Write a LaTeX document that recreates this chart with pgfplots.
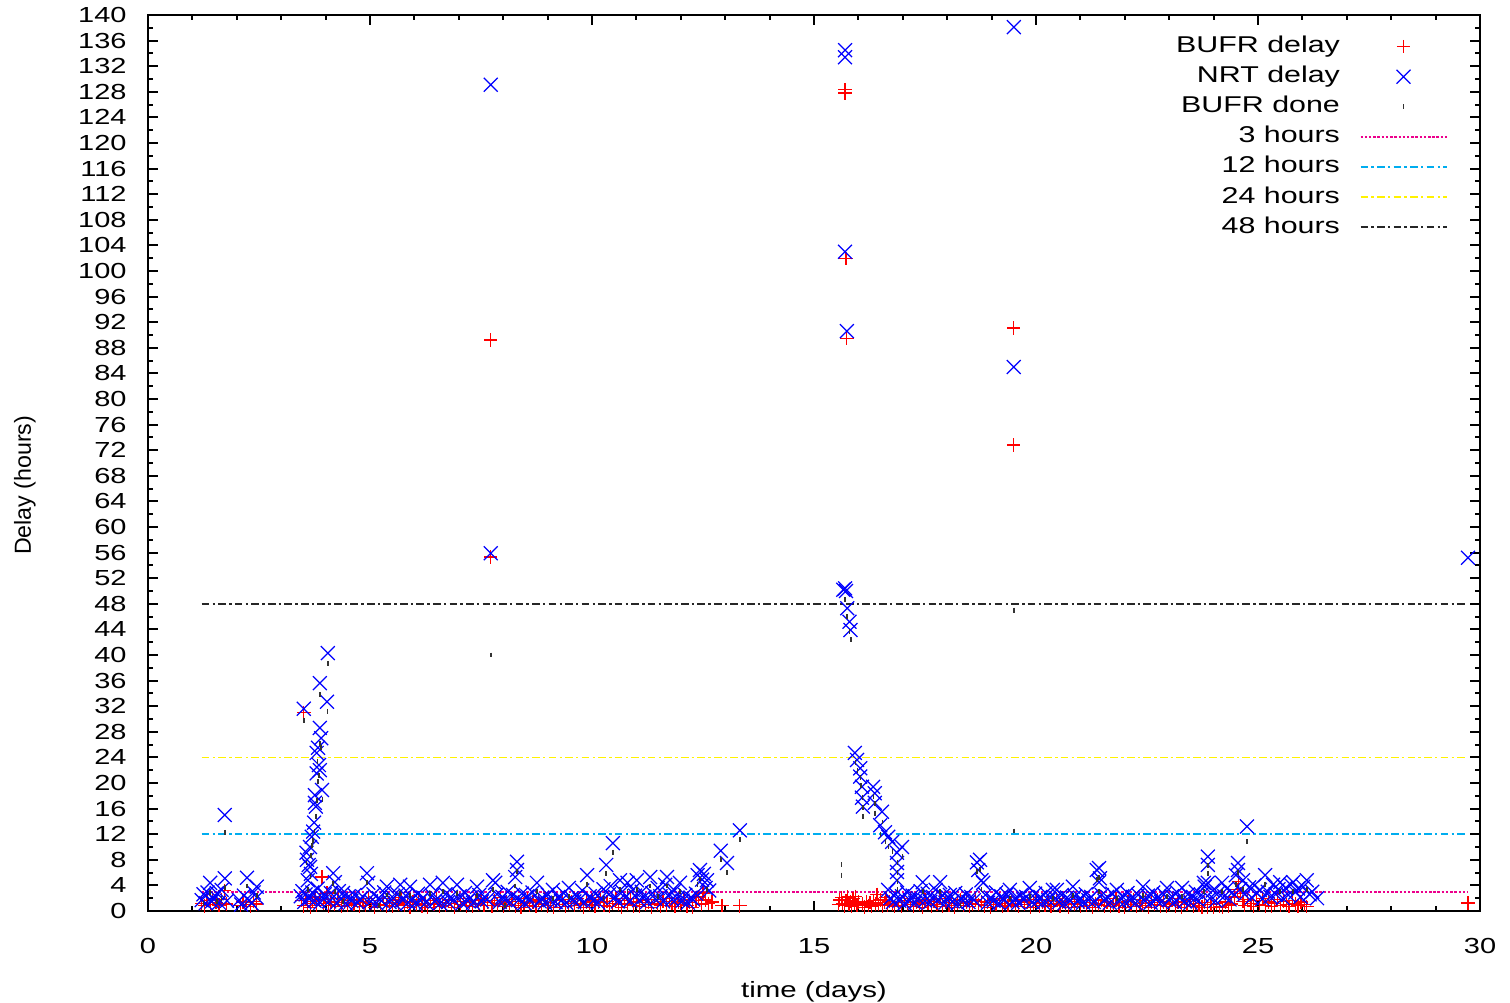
\documentclass[border=0pt]{standalone}
\usepackage{pgfplots}
\pgfplotsset{compat=1.18}
\usepackage{pgfplotstable}
\usepackage{fontspec}
\setmainfont{Liberation Sans}
\newfontfamily\stretchfont{Liberation Sans}[FakeStretch=1.33]

\pgfplotstableread{
x y
1.20 1.2
1.27 0.8
1.33 1.6
1.40 1.0
1.46 2.0
1.53 1.3
1.60 0.9
1.66 1.8
1.73 3.2
1.76 1.1
2.08 0.9
2.14 1.4
2.22 1.0
2.30 0.7
2.38 1.5
2.44 1.1
3.45 1.6
3.51 31.0
3.50 0.8
3.56 2.0
3.60 1.2
3.66 0.6
3.70 1.5
3.76 2.2
3.80 0.9
3.86 1.7
3.92 5.3
3.95 1.2
4.03 2.8
4.06 0.8
4.12 1.4
4.20 1.0
4.28 1.9
4.35 0.7
4.42 1.3
4.50 0.9
4.58 1.6
4.64 1.1
4.70 1.8
4.76 0.7
4.84 1.4
4.90 0.9
4.97 2.0
5.04 1.2
5.10 0.6
5.17 1.6
5.24 1.0
5.30 1.9
5.37 0.8
5.44 1.3
5.50 0.7
5.57 1.7
5.64 1.1
5.70 2.1
5.77 0.9
5.84 1.4
5.90 0.6
5.97 1.5
6.04 1.0
6.10 1.8
6.17 0.8
6.24 1.2
6.30 0.6
6.37 1.6
6.44 1.1
6.50 2.0
6.57 0.7
6.64 1.3
6.70 0.9
6.77 1.7
6.84 1.2
6.90 0.6
6.97 1.5
7.04 1.0
7.10 1.9
7.17 0.8
7.24 1.4
7.30 0.7
7.37 1.6
7.44 1.1
7.50 1.8
7.57 0.9
7.64 1.3
7.72 55.3
7.72 89.2
7.75 0.8
7.80 1.6
7.87 1.1
7.94 2.1
8.00 0.7
8.07 1.4
8.14 1.0
8.20 1.8
8.27 0.8
8.34 1.5
8.40 0.6
8.47 1.2
8.54 1.9
8.60 0.9
8.67 1.4
8.74 0.7
8.80 1.7
8.87 1.1
8.94 2.0
9.00 0.8
9.07 1.3
9.14 0.6
9.20 1.6
9.27 1.0
9.34 1.8
9.40 0.7
9.47 1.2
9.54 1.5
9.60 0.9
9.67 2.0
9.74 1.1
9.80 0.6
9.87 1.4
9.94 1.0
10.00 1.7
10.07 0.8
10.14 1.3
10.20 2.1
10.27 0.9
10.34 1.5
10.40 0.7
10.47 1.2
10.54 1.9
10.60 1.0
10.67 0.6
10.74 1.6
10.80 1.1
10.87 2.0
10.94 0.8
11.00 1.4
11.07 0.7
11.14 1.7
11.20 1.0
11.27 1.3
11.34 0.6
11.40 1.8
11.47 1.1
11.54 0.8
11.60 1.5
11.67 0.9
11.74 1.9
11.80 1.2
11.87 0.7
11.94 1.4
12.00 1.0
12.07 1.7
12.14 0.8
12.20 1.3
12.27 0.6
12.34 1.6
12.40 2.2
12.46 1.1
12.50 2.8
12.55 1.7
12.62 1.2
12.70 1.4
12.93 0.9
13.33 0.8
15.55 1.0
15.58 1.7
15.62 2.1
15.65 1.2
15.68 0.8
15.70 127.8
15.70 128.3
15.72 102.0
15.74 89.5
15.72 1.6
15.76 2.2
15.79 1.0
15.82 1.5
15.85 0.7
15.88 1.9
15.91 1.2
15.94 2.3
15.97 0.9
16.00 1.4
16.10 1.1
16.14 0.6
16.18 1.5
16.22 0.9
16.26 1.3
16.30 0.7
16.34 1.6
16.38 1.1
16.42 2.6
16.46 1.0
16.50 1.7
16.54 0.8
16.58 1.3
16.62 2.1
16.66 0.9
16.70 1.5
16.76 1.1
16.82 0.7
16.90 1.3
16.97 0.8
17.04 1.6
17.10 1.0
17.17 1.9
17.24 0.7
17.30 1.4
17.37 1.1
17.44 0.6
17.50 1.7
17.57 1.2
17.64 0.8
17.70 1.5
17.77 1.0
17.84 2.0
17.90 0.7
17.97 1.3
18.04 0.9
18.10 1.6
18.17 0.6
18.24 1.2
18.30 1.8
18.37 0.9
18.44 1.4
18.50 0.7
18.57 1.1
18.64 1.7
18.70 1.0
18.77 1.5
18.84 0.8
18.90 1.3
18.97 0.6
19.04 1.6
19.10 1.0
19.17 1.9
19.24 0.7
19.30 1.2
19.37 0.9
19.44 1.5
19.50 72.8
19.50 91.1
19.54 1.1
19.60 0.7
19.67 1.7
19.74 1.0
19.80 1.4
19.87 0.6
19.94 1.2
20.00 1.8
20.07 0.8
20.14 1.3
20.20 0.9
20.27 1.6
20.34 0.7
20.40 1.1
20.47 1.9
20.54 0.8
20.60 1.4
20.67 1.0
20.74 0.6
20.80 1.5
20.87 1.1
20.94 1.8
21.00 0.7
21.07 1.3
21.14 0.9
21.20 1.6
21.27 0.6
21.34 1.2
21.40 1.0
21.47 1.7
21.54 0.8
21.60 1.4
21.67 0.7
21.74 1.1
21.80 1.9
21.87 0.8
21.94 1.3
22.00 0.6
22.07 1.5
22.14 1.0
22.20 1.8
22.27 0.7
22.34 1.2
22.40 0.9
22.47 1.6
22.54 0.6
22.60 1.3
22.67 1.0
22.74 1.7
22.80 0.8
22.87 1.4
22.94 0.7
23.00 1.1
23.07 1.9
23.14 0.8
23.20 1.3
23.27 0.6
23.34 1.5
23.40 1.0
23.47 1.8
23.54 0.7
23.60 1.2
23.67 0.9
23.74 0.6
23.80 1.3
23.87 0.5
23.94 1.0
24.00 0.6
24.07 1.2
24.14 0.7
24.20 0.5
24.27 1.4
24.34 0.8
24.40 1.1
24.47 2.2
24.53 3.3
24.56 4.6
24.60 2.7
24.66 1.5
24.70 0.9
24.77 1.8
24.84 1.2
24.90 0.7
24.97 1.6
25.04 1.0
25.10 1.9
25.17 0.8
25.24 1.4
25.30 0.7
25.37 1.2
25.44 1.8
25.50 0.9
25.57 1.5
25.64 1.0
25.70 0.7
25.77 1.6
25.84 1.1
25.90 0.8
25.97 1.4
26.04 1.0
26.10 0.7
29.73 1.25
}\bufr

\pgfplotstableread{
x y
1.21 1.7
1.25 2.6
1.30 1.2
1.34 2.9
1.40 4.4
1.44 1.5
1.47 1.9
1.52 2.3
1.55 2.8
1.60 1.3
1.66 3.3
1.73 5.1
1.73 15.0
1.78 1.6
2.05 1.7
2.10 1.0
2.16 2.4
2.23 5.2
2.28 1.7
2.33 1.2
2.38 2.9
2.45 3.8
2.45 2.1
3.44 2.3
3.48 3.1
3.51 31.6
3.52 1.4
3.55 2.6
3.57 9.1
3.58 8.0
3.60 4.8
3.62 7.2
3.63 1.9
3.65 6.9
3.65 10.0
3.67 5.8
3.69 11.6
3.70 2.9
3.72 12.4
3.74 13.8
3.75 1.6
3.76 16.9
3.76 18.1
3.78 16.3
3.80 21.5
3.80 24.7
3.82 3.5
3.83 25.5
3.85 22.8
3.87 22.0
3.87 28.6
3.87 35.6
3.88 1.3
3.90 27.0
3.92 18.9
3.94 2.0
3.98 2.6
4.03 32.7
4.05 40.3
4.08 1.5
4.12 2.8
4.17 5.9
4.21 4.5
4.25 1.3
4.30 3.1
4.36 1.9
4.39 2.8
4.45 1.2
4.52 2.3
4.58 1.6
4.65 2.5
4.72 1.3
4.78 1.9
4.84 2.2
4.93 5.9
4.96 4.4
5.02 1.5
5.08 2.6
5.14 1.2
5.20 2.0
5.26 1.6
5.32 2.9
5.38 3.8
5.44 1.4
5.50 2.2
5.56 1.1
5.62 2.6
5.68 4.1
5.74 1.7
5.80 2.4
5.86 1.3
5.90 3.8
5.96 2.0
6.02 1.2
6.08 2.7
6.14 1.6
6.20 2.1
6.26 1.3
6.35 4.1
6.40 2.4
6.46 1.5
6.52 2.0
6.58 1.2
6.64 4.4
6.70 2.6
6.76 1.4
6.82 2.2
6.88 1.7
6.96 4.1
7.02 2.3
7.08 1.2
7.14 2.8
7.20 1.6
7.26 2.1
7.32 1.3
7.41 3.8
7.46 2.5
7.52 1.5
7.58 2.2
7.64 1.8
7.72 55.9
7.72 129.1
7.77 4.8
7.82 4.4
7.86 2.6
7.92 1.4
7.98 2.2
8.04 1.7
8.10 3.0
8.16 1.3
8.22 2.5
8.27 5.3
8.31 6.4
8.31 7.7
8.36 1.8
8.42 2.7
8.48 1.2
8.54 2.3
8.60 1.6
8.66 2.9
8.76 4.4
8.82 1.5
8.88 2.1
8.94 1.3
9.00 2.6
9.06 1.7
9.12 3.3
9.18 1.4
9.24 2.2
9.30 1.6
9.36 2.8
9.42 1.3
9.48 3.6
9.54 2.0
9.60 1.5
9.66 2.4
9.72 1.8
9.78 3.2
9.84 1.4
9.89 5.6
9.95 2.3
10.02 1.6
10.08 2.7
10.14 1.3
10.20 2.0
10.26 3.4
10.32 7.2
10.38 2.6
10.42 3.9
10.47 10.6
10.52 2.2
10.58 1.5
10.63 4.8
10.68 3.0
10.74 2.1
10.80 4.4
10.86 1.6
10.92 3.3
10.97 2.4
11.01 4.8
11.06 1.7
11.12 3.0
11.18 2.2
11.24 1.4
11.31 5.3
11.36 2.8
11.42 1.9
11.48 3.6
11.54 2.3
11.60 1.5
11.65 4.1
11.69 5.3
11.74 2.6
11.80 1.8
11.86 3.2
11.92 2.0
11.98 4.4
12.04 1.6
12.10 2.5
12.16 1.3
12.22 2.1
12.28 1.8
12.34 2.7
12.38 5.6
12.43 6.4
12.48 4.9
12.52 5.8
12.56 3.6
12.59 4.8
12.64 3.2
12.90 9.4
13.04 7.5
13.33 12.6
15.66 50.2
15.70 50.4
15.72 50.0
15.70 133.4
15.70 134.5
15.70 103.0
15.74 90.6
15.75 47.3
15.80 45.2
15.82 43.9
15.92 24.7
15.97 23.6
16.04 22.3
16.04 21.0
16.08 19.4
16.08 17.7
16.10 16.3
16.33 19.4
16.37 18.4
16.37 16.9
16.49 13.4
16.53 15.5
16.60 12.3
16.67 11.6
16.76 10.8
16.87 9.1
16.87 7.5
16.87 6.1
16.87 4.8
16.98 10.0
16.67 3.3
16.72 2.0
16.78 1.4
16.84 2.6
16.92 1.6
16.98 2.3
17.04 1.2
17.10 2.9
17.16 1.7
17.22 2.4
17.28 1.3
17.34 2.0
17.40 3.1
17.45 4.5
17.50 1.6
17.56 2.7
17.62 1.4
17.68 2.2
17.74 3.3
17.80 1.8
17.84 4.5
17.90 2.4
17.96 1.3
18.02 2.1
18.06 2.5
18.12 1.5
18.18 2.8
18.24 1.2
18.30 2.0
18.36 1.6
18.42 2.6
18.48 1.4
18.54 2.2
18.60 1.7
18.67 7.6
18.70 6.4
18.74 8.0
18.77 4.8
18.81 4.4
18.86 2.5
18.92 1.3
18.98 2.1
19.04 1.6
19.10 2.9
19.16 1.2
19.22 2.3
19.28 1.7
19.34 2.6
19.41 3.3
19.50 85.0
19.50 138.1
19.47 1.4
19.54 2.0
19.60 1.3
19.66 2.5
19.72 1.8
19.78 2.2
19.86 3.6
19.92 1.4
19.98 2.7
20.04 1.6
20.10 2.2
20.16 1.3
20.22 2.8
20.28 1.7
20.38 3.3
20.44 2.0
20.47 3.3
20.52 1.4
20.58 2.5
20.64 1.2
20.70 2.1
20.76 1.6
20.83 3.8
20.88 2.3
20.94 1.5
21.00 2.0
21.06 1.3
21.12 2.6
21.18 1.7
21.24 2.2
21.30 1.4
21.37 6.4
21.42 6.7
21.42 4.5
21.44 5.1
21.48 2.5
21.54 1.6
21.60 2.2
21.66 1.3
21.72 2.7
21.82 3.3
21.88 1.5
21.94 2.3
22.00 1.4
22.06 2.8
22.12 1.7
22.18 2.2
22.24 1.2
22.30 2.5
22.41 3.8
22.46 1.6
22.52 2.4
22.58 1.3
22.64 2.9
22.70 1.8
22.76 2.2
22.82 1.4
22.88 2.6
22.95 3.6
23.00 1.7
23.06 2.3
23.12 1.4
23.18 2.9
23.24 2.0
23.29 3.6
23.35 1.5
23.42 2.6
23.48 1.3
23.54 2.2
23.60 3.0
23.66 1.6
23.72 2.5
23.78 4.4
23.80 3.8
23.87 8.5
23.87 7.2
23.87 4.4
23.92 2.0
23.98 3.2
24.04 1.6
24.10 2.8
24.19 4.4
24.24 2.3
24.30 3.5
24.36 1.8
24.42 2.9
24.50 5.6
24.55 7.5
24.55 6.4
24.60 3.4
24.66 4.8
24.70 2.6
24.75 13.2
24.80 3.7
24.86 2.1
24.92 4.0
24.98 2.8
25.04 3.3
25.10 1.9
25.16 5.6
25.22 3.0
25.28 2.2
25.34 4.1
25.40 2.6
25.46 3.4
25.50 4.5
25.56 2.0
25.62 3.6
25.68 2.5
25.74 4.1
25.79 4.5
25.84 2.9
25.90 3.5
25.96 2.2
26.02 3.8
26.10 4.8
26.16 2.6
26.22 3.0
26.33 2.0
29.73 55.2
}\nrt

\pgfplotstableread{
x y
1.25 1.2
1.40 2.9
1.55 1.5
1.66 2.0
1.73 3.6
1.73 12.3
2.23 3.9
2.45 2.4
3.52 29.8
3.57 7.5
3.60 3.4
3.66 5.4
3.67 8.6
3.69 10.2
3.72 11.0
3.75 12.5
3.78 14.8
3.80 17.2
3.83 20.2
3.82 23.4
3.85 21.2
3.87 26.2
3.88 33.8
3.90 25.5
3.93 17.4
4.04 31.2
4.06 38.6
4.17 4.3
4.21 3.0
4.39 1.5
4.93 4.4
5.20 0.8
5.38 2.5
5.68 2.7
5.90 2.4
6.35 2.7
6.64 3.0
6.96 2.7
7.41 2.4
7.72 40.0
7.77 3.4
8.04 0.9
8.27 3.9
8.31 6.2
8.76 3.0
9.12 1.9
9.48 2.2
9.89 4.2
10.26 2.0
10.32 5.8
10.47 9.2
10.63 3.4
10.80 3.0
11.01 3.4
11.31 3.9
11.48 2.2
11.69 3.9
11.98 3.0
12.38 4.2
12.43 5.0
12.59 3.4
12.90 8.0
13.04 6.0
13.33 11.2
15.62 7.2
15.62 5.6
15.70 48.6
15.74 46.0
15.80 43.6
15.83 42.4
15.93 23.2
15.98 22.0
16.05 20.8
16.06 19.6
16.09 17.8
16.10 16.2
16.11 14.8
16.34 17.9
16.38 16.8
16.38 15.3
16.50 11.9
16.54 13.9
16.61 10.8
16.68 10.1
16.77 9.3
16.88 7.6
16.88 6.0
16.88 4.6
16.88 3.3
16.99 8.5
17.45 3.0
17.84 3.0
18.30 0.8
18.67 6.1
18.74 6.5
18.77 3.3
19.41 1.9
19.50 47.0
19.50 12.5
19.86 2.2
20.38 1.9
20.83 2.4
21.37 4.9
21.42 5.3
21.42 3.1
21.82 1.9
22.41 2.4
22.95 2.2
23.29 2.2
23.78 3.0
23.87 7.1
23.87 5.8
24.19 3.0
24.50 4.2
24.55 6.0
24.66 3.4
24.75 10.8
25.16 4.2
25.50 3.0
25.79 3.0
26.10 3.4
}\done

\begin{document}
\begin{tikzpicture}
\useasboundingbox (-1.48cm,-0.92cm) rectangle (13.62cm,9.11cm);
\begin{axis}[
  at={(0,0)}, anchor=south west,
  scale only axis, width=13.32cm, height=8.96cm,
  xmin=0, xmax=30, ymin=0, ymax=140,
  xtick={0,5,...,30}, minor x tick num=4,
  ytick={0,4,...,140}, minor y tick num=1,
  tick align=inside,
  major tick length=0.1cm, minor tick length=0.05cm,
  every tick/.style={black, line width=0.6pt},
  axis line style={black, line width=0.7pt},
  clip=false,
  /pgf/number format/assume math mode=true,
  ticklabel style={font=\stretchfont\fontsize{6.2}{7}\selectfont},
  xticklabel style={yshift=-0.15cm},
  yticklabel style={xshift=-0.09cm},
  xlabel={time (days)},
  ylabel={Delay (hours)},
  xlabel style={font=\stretchfont\fontsize{6.3}{7}\selectfont, at={(axis description cs:0.5,-0.09)}, anchor=center},
  ylabel style={font=\fontsize{6.6}{7}\selectfont, at={(axis description cs:-0.0925,0.475)}, anchor=center},
  legend plot pos=right,
  legend cell align=right,
  legend image code/.code={\draw[mark repeat=2,mark phase=2,#1] plot coordinates {(0cm,0cm) (0.43cm,0cm) (0.86cm,0cm)};},
  legend style={at={(axis description cs:0.984,0.988)}, anchor=north east,
    draw=none, fill=none, font=\stretchfont\fontsize{6.5}{7}\selectfont,
    row sep=1.05pt, column sep=0.18cm,
    nodes={inner sep=0.5pt, text height=5pt, text depth=1.5pt}},
]
\addplot[only marks, mark=+, mark size=1.9pt, red, line width=0.35pt] table {\bufr};
\addlegendentry{BUFR delay}
\addplot[only marks, mark=x, mark size=2.8pt, blue, line width=0.35pt] table {\nrt};
\addlegendentry{NRT delay}
\addplot[only marks, mark=|, mark size=0.7pt, black!80, line width=0.45pt] table {\done};
\addlegendentry{BUFR done}
\addplot[magenta, line width=0.5pt, dash pattern=on 0.7pt off 0.5pt] coordinates {(1.21,3) (29.73,3)};
\addlegendentry{3 hours}
\addplot[cyan, line width=0.5pt, dash pattern=on 2.2pt off 0.9pt on 0.7pt off 0.9pt] coordinates {(1.21,12) (29.73,12)};
\addlegendentry{12 hours}
\addplot[yellow, line width=0.5pt, dash pattern=on 2.2pt off 0.9pt on 0.7pt off 0.9pt] coordinates {(1.21,24) (29.73,24)};
\addlegendentry{24 hours}
\addplot[black!85, line width=0.5pt, dash pattern=on 2.2pt off 0.9pt on 0.7pt off 0.9pt] coordinates {(1.21,48) (29.73,48)};
\addlegendentry{48 hours}
\end{axis}
\end{tikzpicture}
\end{document}
